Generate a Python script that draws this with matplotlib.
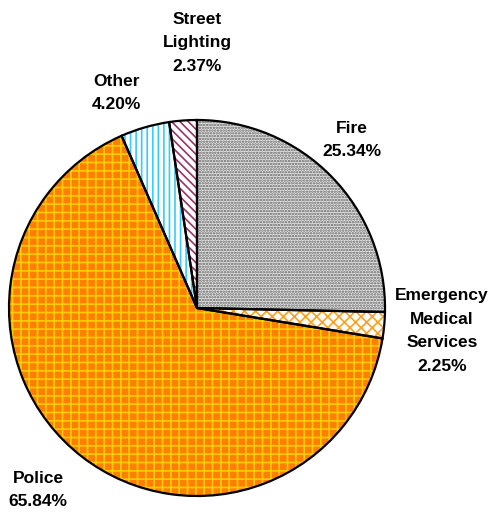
import matplotlib.pyplot as plt

plt.rcParams["font.family"] = ["Liberation Sans", "DejaVu Sans"]
plt.rcParams["hatch.linewidth"] = 1.2

categories = ["Fire", "Emergency\nMedical\nServices", "Police", "Other", "Street\nLighting"]
shares = [25.34, 2.25, 65.84, 4.20, 2.37]
face_colors = ["#e8e8e8", "#ffffff", "#ff8000", "#ffffff", "#ffffff"]
hatch_colors = ["#606060", "#ffa020", "#ffcc00", "#33ccff", "#993366"]
hatches = ["......", "xxx", "++", "|||", "\\\\\\\\"]

# label anchor points (pixel space, y measured from top)
label_xy = [(352, 140), (442, 331), (38, 490), (116, 93), (197, 43)]

fig = plt.figure(figsize=(4.94, 5.14), dpi=100)
ax = fig.add_axes([0, 0, 1, 1])

center = (197, 514 - 308)
radius = 188

# hatched fill layer
wedges, _ = ax.pie(
    shares,
    startangle=90,
    counterclock=False,
    center=center,
    radius=radius,
    frame=True,
    wedgeprops=dict(linewidth=0),
)
for w, fc, hc, h in zip(wedges, face_colors, hatch_colors, hatches):
    w.set_facecolor(fc)
    w.set_edgecolor(hc)
    w.set_hatch(h)

# black outline layer
ax.pie(
    shares,
    startangle=90,
    counterclock=False,
    center=center,
    radius=radius,
    frame=True,
    wedgeprops=dict(fill=False, edgecolor="black", linewidth=1.6),
)

for name, val, (x, y) in zip(categories, shares, label_xy):
    ax.text(
        x, 514 - y, f"{name}\n{val:.2f}%",
        ha="center", va="center", fontsize=12.5, fontweight="bold",
        linespacing=1.72,
    )

ax.set_xlim(0, 494)
ax.set_ylim(0, 514)
ax.set_aspect("equal")
ax.axis("off")
fig.savefig("out.png", dpi=100)
